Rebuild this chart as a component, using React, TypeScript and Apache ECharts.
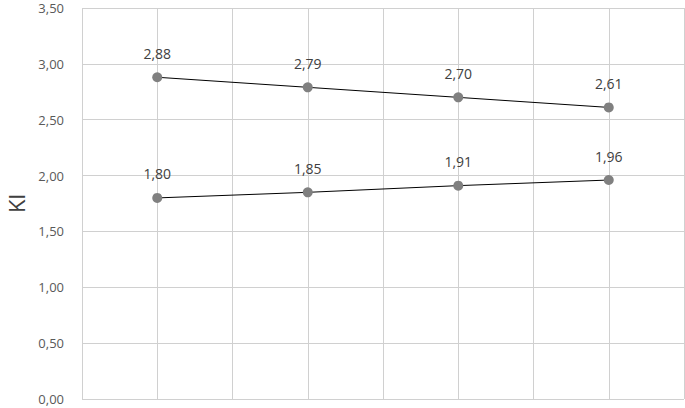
import React, { useEffect, useRef } from "react";
import * as echarts from "echarts";

const xPositions = [1, 2, 3, 4];
const seriesUpper = [2.88, 2.79, 2.7, 2.61];
const seriesLower = [1.8, 1.85, 1.91, 1.96];
const yTitle = "Kl";

const fmt = (v: number) => v.toFixed(2).replace(".", ",");

export default function App() {
  const ref = useRef<HTMLDivElement>(null);
  useEffect(() => {
    if (!ref.current) return;
    document.body.style.margin = "0";
    const chart = echarts.init(ref.current, null, { renderer: "svg" });
    const mk = (vals: number[]) => ({
      type: "line",
      data: vals.map((v, i) => [xPositions[i], v]),
      symbol: "circle",
      symbolSize: 10,
      itemStyle: { color: "#808080" },
      lineStyle: { color: "#000000", width: 1 },
      label: {
        show: true,
        position: "top",
        distance: 12,
        formatter: (p: any) => fmt(p.value[1]),
        color: "#404040",
        fontSize: 14,
        fontFamily: "Open Sans",
      },
      emphasis: { disabled: true },
    });
    chart.setOption({
      animation: false,
      grid: { left: 82, right: 1, top: 8, bottom: 9, containLabel: false, outerBoundsMode: "none" },
      xAxis: {
        type: "value",
        min: 0.5,
        max: 4.5,
        interval: 0.5,
        axisLabel: { show: false },
        axisTick: { show: false },
        axisLine: { show: false },
        splitLine: { show: true, lineStyle: { color: "#d0d0d0", width: 1 } },
      },
      yAxis: {
        type: "value",
        min: 0,
        max: 3.5,
        interval: 0.5,
        name: yTitle,
        nameLocation: "middle",
        nameGap: 55,
        nameRotate: 90,
        nameTextStyle: { color: "#404040", fontSize: 22, fontFamily: "Open Sans" },
        axisLabel: {
          formatter: (v: number) => fmt(v),
          color: "#595959",
          fontSize: 13,
          fontFamily: "Open Sans",
          margin: 18,
        },
        axisTick: { show: false },
        axisLine: { show: false },
        splitLine: { show: true, lineStyle: { color: "#d0d0d0", width: 1 } },
      },
      series: [mk(seriesUpper), mk(seriesLower)],
    });
    return () => chart.dispose();
  }, []);
  return <div ref={ref} style={{ width: 685, height: 408 }} />;
}
